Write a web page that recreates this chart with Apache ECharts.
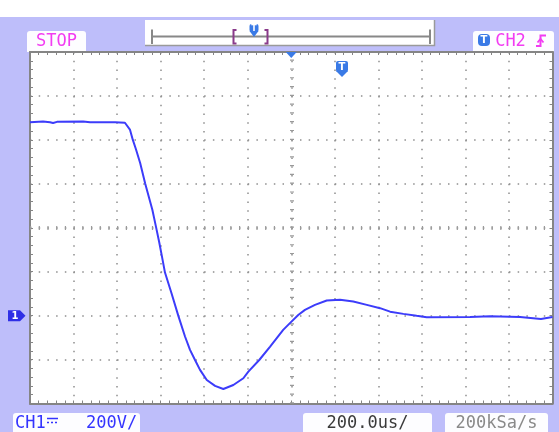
<!DOCTYPE html>
<html>
<head>
<meta charset="utf-8">
<script src="https://cdn.jsdelivr.net/npm/echarts@6/dist/echarts.min.js"></script>
<style>
  html, body { margin: 0; padding: 0; background: #bebefa; }
  #scope { width: 559px; height: 432px; }
</style>
</head>
<body>
<div id="scope"></div>
<script>
// Channel 1 capture: time relative to the trigger (us) and amplitude (V)
const timeUs = [-1200, -1140, -1108, -1094, -1076, -956, -924, -809, -764, -741, -728, -713, -694, -671,
  -638, -621, -606, -591, -580, -550, -519, -488, -465, -442, -419, -388, -350, -312, -266, -220, -197,
  -147, -98, -37, -6, 32, 63, 109, 163, 224, 285, 347, 408, 454, 515, 576, 622, 821, 913, 1051, 1147, 1156, 1200];
const volts = [880, 884, 880, 877, 882, 884, 880, 880, 878, 847, 801, 756, 695, 601,
  482, 403, 332, 254, 196, 102, 0, -95, -156, -202, -247, -293, -320, -334, -316, -285, -255,
  -202, -142, -65, -34, 3, 26, 49, 69, 72, 64, 49, 34, 18, 8, -1, -7, -6, -3, -6, -15, -6, -6];

// Screen scaling
const timePerDiv = 200;      // us / div
const voltsPerDiv = 200;     // V / div
const hDivs = 12, vDivs = 8;
const groundDivsBelowCenter = 2;

// Readout texts
const statusText = 'STOP';
const triggerSource = 'CH2';
const channelName = 'CH1';
const channelScale = '200V/';
const timebaseText = '200.0us/';
const sampleRateText = '200kSa/s';

const xMin = -hDivs / 2 * timePerDiv, xMax = hDivs / 2 * timePerDiv;
const centerV = groundDivsBelowCenter * voltsPerDiv;
const yMin = centerV - vDivs / 2 * voltsPerDiv, yMax = centerV + vDivs / 2 * voltsPerDiv;

const frameColor = '#858585';
const dotColor = '#8e8e8e';
const blueTag = '#3a7ae6';
const magenta = '#f23cf2';
const mono = '"DejaVu Sans Mono", "Liberation Mono", monospace';

const gridRect = { left: 30, top: 52, right: 6.5, bottom: 28.5 };
const plotW = 559 - gridRect.left - gridRect.right;
const plotH = 432 - gridRect.top - gridRect.bottom;
const xDot = plotW / hDivs / 5, yDot = plotH / vDivs / 5;

function frameAxis(pos, isX, withGrid) {
  return {
    type: 'value', position: pos,
    min: isX ? xMin : yMin, max: isX ? xMax : yMax,
    interval: isX ? timePerDiv : voltsPerDiv,
    axisLine: { show: true, onZero: false, lineStyle: { color: frameColor, width: 2 } },
    axisTick: { show: true, inside: true, length: 3, lineStyle: { color: frameColor, width: 1 } },
    minorTick: { show: true, splitNumber: 5, length: 3, lineStyle: { color: frameColor, width: 1 } },
    axisLabel: { show: false },
    splitLine: { show: withGrid, lineStyle: { color: dotColor, width: 1.5, type: isX ? [1.5, yDot - 1.5] : [1.5, xDot - 1.5] } },
    minorSplitLine: { show: false }
  };
}

const chart = echarts.init(document.getElementById('scope'), null, { renderer: 'canvas' });

chart.setOption({
  animation: false,
  backgroundColor: '#bebefa',
  grid: Object.assign({ show: true, backgroundColor: '#ffffff', borderWidth: 0 }, gridRect),
  xAxis: [frameAxis('bottom', true, true), frameAxis('top', true, false)],
  yAxis: [frameAxis('left', false, true), frameAxis('right', false, false)],
  series: [
    {
      // center cross-hair with tick marks at every minor division
      type: 'line', data: [], silent: true, xAxisIndex: 0, yAxisIndex: 0,
      markLine: {
        silent: true, symbol: ['none', 'none'], label: { show: false },
        lineStyle: { color: '#9a9a9a', width: 4, type: [1.2, xDot - 1.2] },
        data: [{ yAxis: centerV }, { xAxis: 0, lineStyle: { color: '#9a9a9a', width: 4, type: [1.2, yDot - 1.2] } }]
      }
    },
    {
      name: channelName, type: 'line', xAxisIndex: 0, yAxisIndex: 0,
      data: timeUs.map((t, i) => [t, volts[i]]),
      showSymbol: false, clip: true, z: 5,
      lineStyle: { color: '#3c3cfa', width: 2 }
    }
  ]
});

// Screen decorations: status tabs, trigger markers and readouts
const trigX = chart.convertToPixel({ xAxisIndex: 0 }, 0);
const gndY = chart.convertToPixel({ yAxisIndex: 0 }, 0);
const topY = gridRect.top;

function tag(cx, y, w, h, label, fontSize) {
  return {
    type: 'group', children: [
      { type: 'rect', shape: { x: cx - w / 2, y: y, width: w, height: h, r: 2 }, style: { fill: blueTag } },
      { type: 'polygon', shape: { points: [[cx - w / 2, y + h - 1], [cx + w / 2, y + h - 1], [cx, y + h + 5]] }, style: { fill: blueTag } },
      { type: 'text', style: { text: label, x: cx, y: y + h / 2 + 0.5, align: 'center', verticalAlign: 'middle', fill: '#fff', fontSize: fontSize, fontWeight: 'bold', fontFamily: 'DejaVu Sans' } }
    ]
  };
}
function txt(s, x, y, fill, align) {
  return { type: 'text', style: { text: s, x: x, y: y, align: align || 'center', verticalAlign: 'middle', fill: fill, fontSize: 17, fontFamily: mono } };
}
function tab(x, y, w, h) {
  return { type: 'rect', shape: { x: x, y: y, width: w, height: h, r: [3, 3, 0, 0] }, style: { fill: '#fdfdff' } };
}

chart.setOption({
  graphic: [
    { type: 'rect', shape: { x: 0, y: 0, width: 559, height: 17 }, style: { fill: '#ffffff' }, z: -1 },

    // status tab
    tab(27, 31, 59, 21),
    txt(statusText, 56.5, 41.5, magenta),

    // horizontal position bar
    { type: 'rect', shape: { x: 145, y: 20, width: 290, height: 26 }, style: { fill: '#ffffff' } },
    { type: 'polyline', shape: { points: [[145, 45.5], [434.5, 45.5], [434.5, 20]] }, style: { stroke: '#9a9a9a', lineWidth: 1.5, fill: null } },
    { type: 'line', shape: { x1: 152, y1: 36.5, x2: 430, y2: 36.5 }, style: { stroke: '#888', lineWidth: 2 } },
    { type: 'line', shape: { x1: 152, y1: 29.5, x2: 152, y2: 44 }, style: { stroke: '#888', lineWidth: 2 } },
    { type: 'line', shape: { x1: 430, y1: 29.5, x2: 430, y2: 44 }, style: { stroke: '#888', lineWidth: 2 } },
    { type: 'polyline', shape: { points: [[236.5, 30], [233.5, 30], [233.5, 43.5], [236.5, 43.5]] }, style: { stroke: '#8a3a8a', lineWidth: 2, fill: null } },
    { type: 'polyline', shape: { points: [[264.5, 30], [267.5, 30], [267.5, 43.5], [264.5, 43.5]] }, style: { stroke: '#8a3a8a', lineWidth: 2, fill: null } },
    tag(254, 24, 9, 8, 'T', 8),

    // trigger position and trigger level markers
    { type: 'polygon', shape: { points: [[trigX - 5.5, topY], [trigX + 5.5, topY], [trigX, topY + 6]] }, style: { fill: blueTag }, z: 10 },
    tag(342, 61, 12, 11, 'T', 10),

    // trigger source tab
    tab(473, 31, 81, 21),
    { type: 'rect', shape: { x: 478, y: 34, width: 12, height: 12, r: 4 }, style: { fill: blueTag } },
    { type: 'text', style: { text: 'T', x: 484, y: 40.5, align: 'center', verticalAlign: 'middle', fill: '#fff', fontSize: 10, fontWeight: 'bold', fontFamily: 'DejaVu Sans' } },
    txt(triggerSource, 510.5, 41.5, magenta),
    { type: 'polyline', shape: { points: [[536, 46], [540.5, 46], [540.5, 35.5], [546, 35.5]] }, style: { stroke: magenta, lineWidth: 2, fill: null } },
    { type: 'polyline', shape: { points: [[537.5, 42.5], [540.5, 39], [543.5, 42.5]] }, style: { stroke: magenta, lineWidth: 1.8, fill: null } },

    // channel 1 ground reference
    { type: 'polygon', shape: { points: [[8, gndY - 5.5], [20, gndY - 5.5], [25.5, gndY], [20, gndY + 5.5], [8, gndY + 5.5]] }, style: { fill: '#2f2fe6' } },
    { type: 'text', style: { text: '1', x: 15, y: gndY + 0.5, align: 'center', verticalAlign: 'middle', fill: '#fff', fontSize: 10, fontWeight: 'bold', fontFamily: 'DejaVu Sans' } },

    // bottom readouts
    tab(13, 413, 127, 22),
    txt(channelName, 15, 423.5, '#3434ff', 'left'),
    { type: 'line', shape: { x1: 47, y1: 418.5, x2: 58, y2: 418.5 }, style: { stroke: '#3434ff', lineWidth: 1.5 } },
    { type: 'line', shape: { x1: 47, y1: 422.5, x2: 58, y2: 422.5 }, style: { stroke: '#3434ff', lineWidth: 1.5, lineDash: [2, 2] } },
    txt(channelScale, 86, 423.5, '#3434ff', 'left'),
    tab(303, 413, 129, 22),
    txt(timebaseText, 367.5, 423.5, '#3a3a3a'),
    tab(445, 413, 103, 22),
    txt(sampleRateText, 496.5, 423.5, '#8a8a8a')
  ]
});
</script>
</body>
</html>
